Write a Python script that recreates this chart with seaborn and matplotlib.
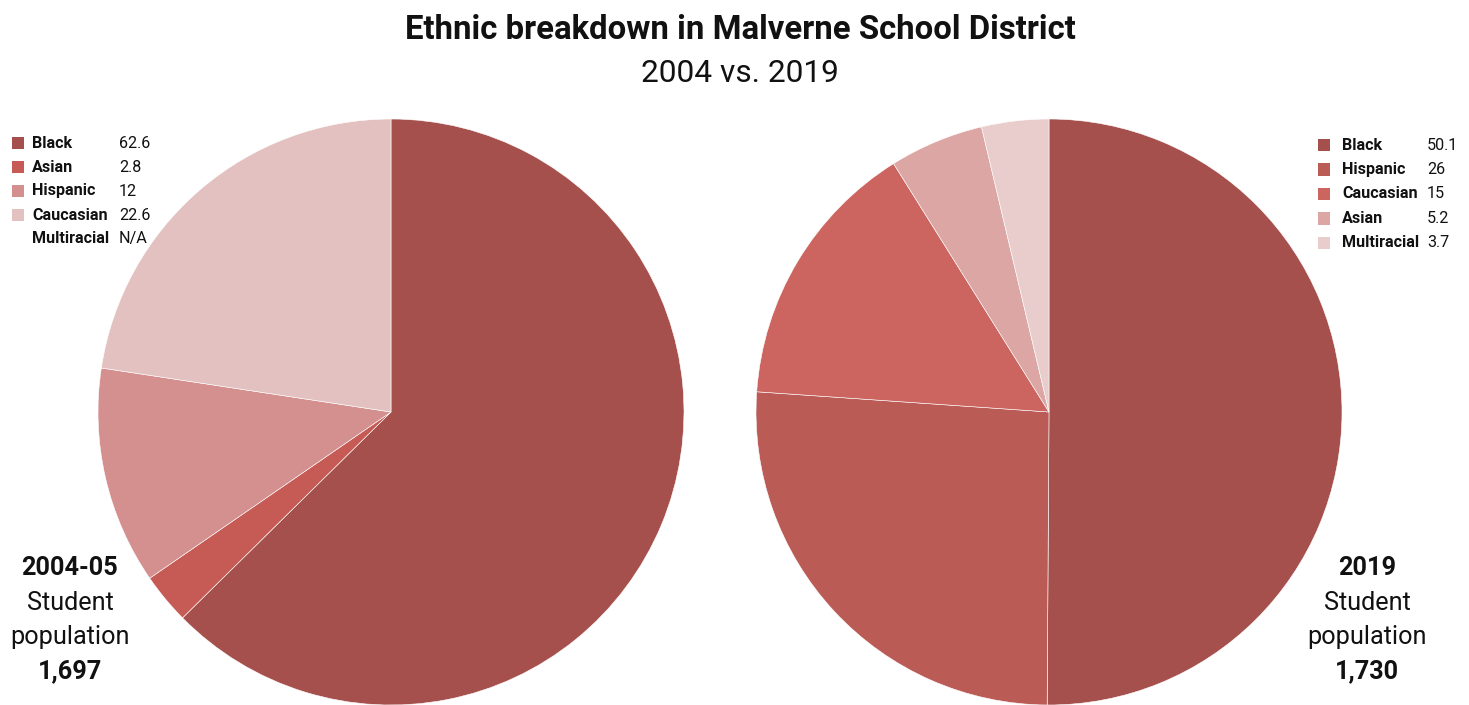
import matplotlib
matplotlib.use("Agg")
import matplotlib.pyplot as plt
import seaborn as sns
from matplotlib.patches import Rectangle

sns.set_theme(style="white")
plt.rcParams['font.family'] = ['Roboto', 'DejaVu Sans']

# Data
labels_2004 = ["Black", "Asian", "Hispanic", "Caucasian", "Multiracial"]
values_2004 = [62.6, 2.8, 12, 22.6, None]
value_text_2004 = ["62.6", "2.8", "12", "22.6", "N/A"]
colors_2004 = ["#A5504C", "#C65B56", "#D4908E", "#E3C1C0", None]

labels_2019 = ["Black", "Hispanic", "Caucasian", "Asian", "Multiracial"]
values_2019 = [50.1, 26, 15, 5.2, 3.7]
value_text_2019 = ["50.1", "26", "15", "5.2", "3.7"]
colors_2019 = ["#A5504C", "#BA5B56", "#CC6560", "#DCA6A4", "#E8CDCC"]

title = "Ethnic breakdown in Malverne School District"
subtitle = "2004 vs. 2019"
pop_2004 = ["2004-05", "Student", "population", "1,697"]
pop_2019 = ["2019", "Student", "population", "1,730"]

W, H = 1469, 705
fig = plt.figure(figsize=(W / 100, H / 100), dpi=100)
fig.patch.set_facecolor("white")

R = 293

def pie_axes(cx, cy):
    return fig.add_axes([(cx - R) / W, (H - cy - R) / H, 2 * R / W, 2 * R / H])

ax1 = pie_axes(391, 412)
v1 = [v for v in values_2004 if v is not None]
c1 = [c for c in colors_2004 if c is not None]
ax1.pie(v1, colors=c1, startangle=90, counterclock=False,
        wedgeprops=dict(linewidth=0.4, edgecolor="white"))
ax1.set_aspect("equal")
ax1.set_xlim(-1, 1); ax1.set_ylim(-1, 1)
ax1.axis("off")

ax2 = pie_axes(1049, 412)
ax2.pie(values_2019, colors=colors_2019, startangle=90, counterclock=False,
        wedgeprops=dict(linewidth=0.4, edgecolor="white"))
ax2.set_aspect("equal")
ax2.set_xlim(-1, 1); ax2.set_ylim(-1, 1)
ax2.axis("off")

def fx(x): return x / W
def fy(y): return 1 - y / H

# Title
fig.text(fx(740), fy(30), title, ha="center", va="center", fontsize=23.7, fontweight="bold", color="#111111")
fig.text(fx(740), fy(74), subtitle, ha="center", va="center", fontsize=22.8, color="#111111")

def legend(x_sq, x_lab, x_val, y0, dy, labels, vals, colors):
    for i, (lab, val, col) in enumerate(zip(labels, vals, colors)):
        y = y0 + i * dy
        if col is not None:
            fig.patches.append(Rectangle((fx(x_sq), fy(y + 6)), 12 / W, 12 / H,
                                         transform=fig.transFigure, facecolor=col, edgecolor="none"))
        fig.text(fx(x_lab), fy(y), lab, ha="left", va="center", fontsize=11.6, fontweight="bold", color="#111111")
        fig.text(fx(x_val), fy(y), val, ha="left", va="center", fontsize=11.6, color="#111111")

legend(12, 32, 119, 143, 24, labels_2004, value_text_2004, colors_2004)
legend(1318, 1342, 1427, 145, 24.5, labels_2019, value_text_2019, colors_2019)

def pop(xc, lines):
    ys = [568, 603, 637, 671]
    weights = ["bold", "normal", "normal", "bold"]
    for t, y, w in zip(lines, ys, weights):
        fig.text(fx(xc), fy(y), t, ha="center", va="center", fontsize=18.2, fontweight=w, color="#111111")

pop(70, pop_2004)
pop(1367, pop_2019)

fig.savefig("out.png", dpi=100, facecolor="white")
